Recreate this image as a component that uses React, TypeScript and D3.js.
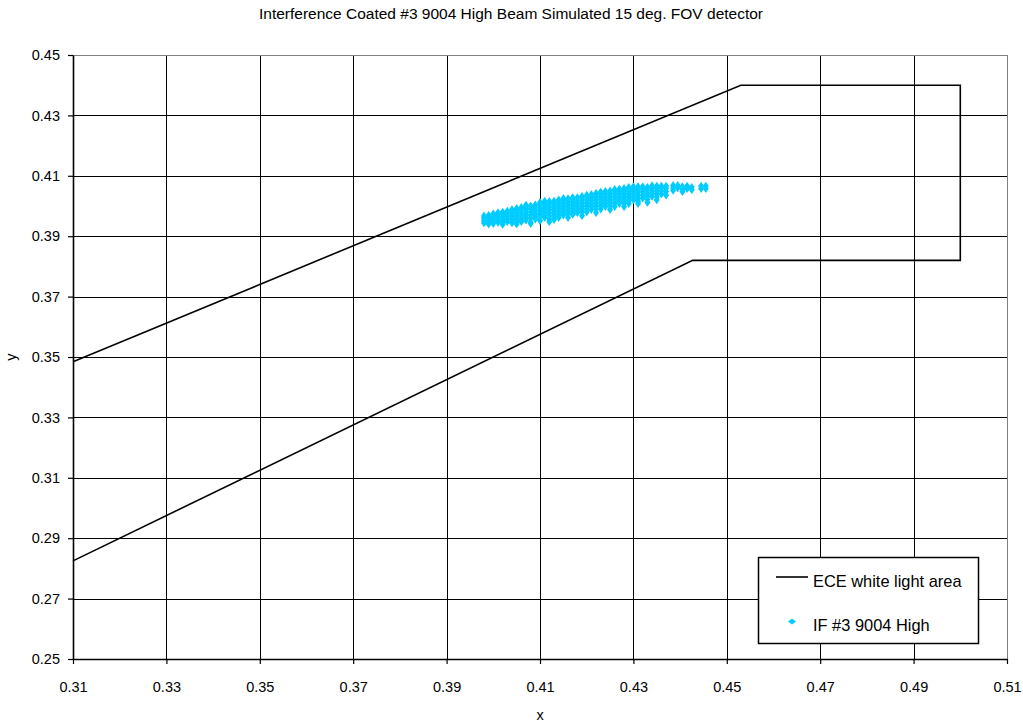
import React, { useEffect, useRef } from 'react';
import * as d3 from 'd3';

// Chart text
const chartTitle = 'Interference Coated #3 9004 High Beam Simulated 15 deg. FOV detector';
const xTicks = [0.31, 0.33, 0.35, 0.37, 0.39, 0.41, 0.43, 0.45, 0.47, 0.49, 0.51];
const yTicks = [0.25, 0.27, 0.29, 0.31, 0.33, 0.35, 0.37, 0.39, 0.41, 0.43, 0.45];
const legendLabels = ['ECE white light area', 'IF #3 9004 High'];

// ECE white light boundary (x, y)
const eceX = [0.31, 0.453, 0.5, 0.5, 0.4427, 0.31];
const eceY = [0.3484, 0.44, 0.44, 0.382, 0.382, 0.2825];

// IF #3 9004 High measured points, grouped by x column
const ifCols: [number, number[]][] = [
  [0.398, [0.3944, 0.3952, 0.3960, 0.3967]],
  [0.399, [0.3940, 0.3945, 0.3953, 0.3962, 0.3969]],
  [0.400, [0.3942, 0.3951, 0.3960, 0.3968, 0.3974]],
  [0.401, [0.3946, 0.3955, 0.3964, 0.3972, 0.3978]],
  [0.402, [0.3939, 0.3945, 0.3954, 0.3963, 0.3972, 0.3980]],
  [0.403, [0.3948, 0.3957, 0.3966, 0.3975, 0.3983]],
  [0.404, [0.3944, 0.3956, 0.3965, 0.3974, 0.3983, 0.3988]],
  [0.405, [0.3940, 0.3950, 0.3959, 0.3968, 0.3977, 0.3986, 0.3992]],
  [0.406, [0.3948, 0.3958, 0.3968, 0.3978, 0.3988, 0.3995]],
  [0.407, [0.3953, 0.3962, 0.3971, 0.3980, 0.3990, 0.3998, 0.4003]],
  [0.408, [0.3942, 0.3946, 0.3960, 0.3970, 0.3980, 0.3990, 0.4000]],
  [0.409, [0.3957, 0.3966, 0.3975, 0.3985, 0.3995, 0.4004]],
  [0.410, [0.3952, 0.3965, 0.3975, 0.3985, 0.3995, 0.4005, 0.4012]],
  [0.411, [0.3962, 0.3971, 0.3981, 0.3991, 0.4001, 0.4010, 0.4016]],
  [0.412, [0.3948, 0.3958, 0.3968, 0.3978, 0.3988, 0.3998, 0.4008, 0.4015]],
  [0.413, [0.3955, 0.3966, 0.3976, 0.3986, 0.3996, 0.4006, 0.4016]],
  [0.414, [0.3962, 0.3972, 0.3982, 0.3992, 0.4002, 0.4012, 0.4020]],
  [0.415, [0.3970, 0.3980, 0.3990, 0.4000, 0.4010, 0.4020, 0.4025]],
  [0.416, [0.3962, 0.3975, 0.3985, 0.3995, 0.4005, 0.4015, 0.4024]],
  [0.417, [0.3972, 0.3982, 0.3992, 0.4002, 0.4012, 0.4022, 0.4028]],
  [0.418, [0.3978, 0.3988, 0.3998, 0.4008, 0.4018, 0.4028]],
  [0.419, [0.3968, 0.3982, 0.3992, 0.4002, 0.4012, 0.4022, 0.4032]],
  [0.420, [0.3980, 0.3990, 0.4000, 0.4010, 0.4020, 0.4030, 0.4036]],
  [0.421, [0.3988, 0.3998, 0.4008, 0.4018, 0.4028, 0.4038]],
  [0.422, [0.3978, 0.3992, 0.4002, 0.4012, 0.4022, 0.4032, 0.4042]],
  [0.423, [0.3990, 0.4000, 0.4010, 0.4020, 0.4030, 0.4040, 0.4046]],
  [0.424, [0.3998, 0.4008, 0.4018, 0.4028, 0.4038, 0.4048]],
  [0.425, [0.3988, 0.4002, 0.4012, 0.4022, 0.4032, 0.4042, 0.4050]],
  [0.426, [0.3998, 0.4010, 0.4020, 0.4030, 0.4040, 0.4050, 0.4055]],
  [0.427, [0.4008, 0.4018, 0.4028, 0.4038, 0.4048, 0.4056]],
  [0.428, [0.3998, 0.4012, 0.4022, 0.4032, 0.4042, 0.4052, 0.4058]],
  [0.429, [0.4008, 0.4018, 0.4028, 0.4038, 0.4048, 0.4058, 0.4062]],
  [0.430, [0.4020, 0.4030, 0.4040, 0.4050, 0.4060, 0.4064]],
  [0.431, [0.4008, 0.4016, 0.4026, 0.4036, 0.4046, 0.4056, 0.4064]],
  [0.432, [0.4026, 0.4036, 0.4046, 0.4056, 0.4064]],
  [0.433, [0.4012, 0.4022, 0.4032, 0.4042, 0.4052, 0.4062]],
  [0.434, [0.4032, 0.4042, 0.4052, 0.4062, 0.4067]],
  [0.435, [0.4020, 0.4030, 0.4040, 0.4050, 0.4060, 0.4066]],
  [0.436, [0.4040, 0.4050, 0.4060, 0.4066]],
  [0.437, [0.4036, 0.4048, 0.4058, 0.4066]],
  [0.4385, [0.4052, 0.4060, 0.4068]],
  [0.4395, [0.4060, 0.4068]],
  [0.4405, [0.4048, 0.4056, 0.4064]],
  [0.4415, [0.4058, 0.4066]],
  [0.4425, [0.4054, 0.4062]],
  [0.4445, [0.4058, 0.4066]],
  [0.4455, [0.4058, 0.4066]],
];

const FONT = '"Liberation Sans", Arial, sans-serif';

const App: React.FC = () => {
  const svgRef = useRef<SVGSVGElement>(null);

  useEffect(() => {
    if (!svgRef.current) return;
    const svg = d3.select(svgRef.current);
    svg.selectAll('*').remove();

    const width = 1023;
    const height = 726;
    const plot = { left: 73, right: 1007, top: 55, bottom: 659 };

    const x = d3.scaleLinear().domain([0.31, 0.51]).range([plot.left, plot.right]);
    const y = d3.scaleLinear().domain([0.25, 0.45]).range([plot.bottom, plot.top]);

    svg.append('rect').attr('width', width).attr('height', height).attr('fill', '#fff');

    // Gridlines
    const grid = svg.append('g');
    grid.selectAll('.gx')
      .data(xTicks.slice(1))
      .join('line')
      .attr('x1', d => Math.round(x(d)) + 0.5)
      .attr('x2', d => Math.round(x(d)) + 0.5)
      .attr('y1', plot.top)
      .attr('y2', plot.bottom)
      .attr('stroke', (_, i) => (i === xTicks.length - 2 ? '#808080' : '#000'))
      .attr('stroke-width', 1);
    grid.selectAll('.gy')
      .data(yTicks.slice(1))
      .join('line')
      .attr('x1', plot.left)
      .attr('x2', plot.right)
      .attr('y1', d => Math.round(y(d)) + 0.5)
      .attr('y2', d => Math.round(y(d)) + 0.5)
      .attr('stroke', (_, i) => (i === yTicks.length - 2 ? '#808080' : '#000'))
      .attr('stroke-width', 1);

    // ECE boundary
    const ecePts: [number, number][] = eceX.map((v, i) => [v, eceY[i]]);
    svg.append('path')
      .attr('d', d3.line<[number, number]>().x(d => x(d[0])).y(d => y(d[1]))(ecePts)!)
      .attr('fill', 'none')
      .attr('stroke', '#000')
      .attr('stroke-width', 1.6);

    // Measured points
    const pts = ifCols.flatMap(([cx, ys]) => ys.map(cy => ({ cx, cy })));
    const mw = 3.0;
    const mh = 4.4;
    svg.append('g')
      .selectAll('path')
      .data(pts)
      .join('path')
      .attr('d', d => {
        const px = x(d.cx);
        const py = y(d.cy);
        return `M${px},${py - mh}L${px + mw},${py}L${px},${py + mh}L${px - mw},${py}Z`;
      })
      .attr('fill', '#00CCFF');

    // Axes
    const axisX = svg.append('g').attr('transform', `translate(0,${plot.bottom})`)
      .call(d3.axisBottom(x).tickValues(xTicks).tickSize(5).tickSizeOuter(0).tickPadding(18)
        .tickFormat(d => d3.format('.2f')(d as number)));
    const axisY = svg.append('g').attr('transform', `translate(${plot.left},0)`)
      .call(d3.axisLeft(y).tickValues(yTicks).tickSize(5).tickSizeOuter(0).tickPadding(8)
        .tickFormat(d => d3.format('.2f')(d as number)));
    [axisX, axisY].forEach(a => {
      a.select('.domain').attr('stroke', '#000').attr('stroke-width', 1.6);
      a.selectAll('line').attr('stroke', '#000').attr('stroke-width', 1.2);
      a.selectAll('text').attr('fill', '#000').style('font-family', FONT).style('font-size', '14.5px');
    });

    // Titles
    svg.append('text')
      .attr('x', 511).attr('y', 19)
      .attr('text-anchor', 'middle')
      .style('font-family', FONT).style('font-size', '15.5px')
      .text(chartTitle);
    svg.append('text')
      .attr('x', 540).attr('y', 720)
      .attr('text-anchor', 'middle')
      .style('font-family', FONT).style('font-size', '14.5px')
      .text('x');
    svg.append('text')
      .attr('transform', 'translate(16,357) rotate(-90)')
      .attr('text-anchor', 'middle')
      .style('font-family', FONT).style('font-size', '14.5px')
      .text('y');

    // Legend
    const lg = svg.append('g');
    lg.append('rect')
      .attr('x', 758.5).attr('y', 557.5).attr('width', 220).attr('height', 86)
      .attr('fill', '#fff').attr('stroke', '#000').attr('stroke-width', 1.5);
    lg.append('line')
      .attr('x1', 776).attr('x2', 808).attr('y1', 577).attr('y2', 577)
      .attr('stroke', '#000').attr('stroke-width', 1.6);
    lg.append('text')
      .attr('x', 813).attr('y', 587)
      .style('font-family', FONT).style('font-size', '16.4px')
      .text(legendLabels[0]);
    lg.append('path')
      .attr('d', 'M792,618.5L796,621.5L792,624.5L788,621.5Z')
      .attr('fill', '#00CCFF');
    lg.append('text')
      .attr('x', 813).attr('y', 631)
      .style('font-family', FONT).style('font-size', '16.4px')
      .text(legendLabels[1]);
  }, []);

  return (
    <div style={{ position: 'absolute', left: 0, top: 0 }}>
      <svg ref={svgRef} width={1023} height={726} style={{ display: 'block' }} />
    </div>
  );
};

export default App;
